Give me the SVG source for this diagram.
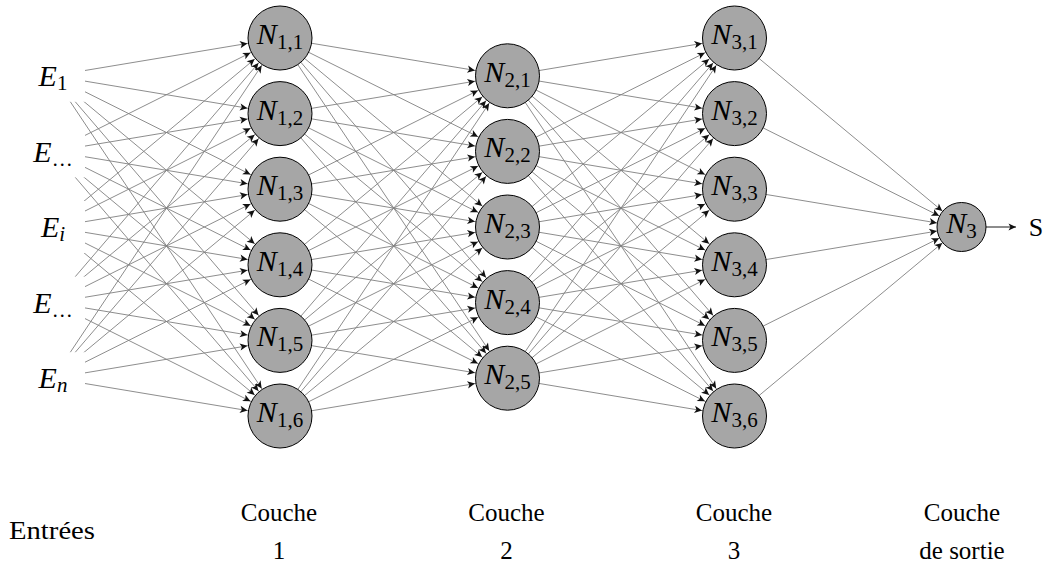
<svg xmlns="http://www.w3.org/2000/svg" width="1046" height="564" viewBox="0 0 1046 564">
<style>
.n circle{fill:#a6a6a6;stroke:#000;stroke-width:1}
.m{font-family:'Liberation Serif','Times New Roman','DejaVu Serif',serif;font-size:30px;text-anchor:middle;fill:#000}
.m .v{font-style:italic}
.m .s{font-size:21px}
.m .si{font-size:21px;font-style:italic}
.t{font-family:'Liberation Serif','Times New Roman','DejaVu Serif',serif;font-size:25px;text-anchor:middle;fill:#000}
.bg{fill:#fff;stroke:none}
</style>
<defs>
<marker id="a" markerUnits="userSpaceOnUse" refX="33" refY="0" orient="auto" overflow="visible" markerWidth="10" markerHeight="10"><path d="M0,0 L-7.5,-3.6 L-5.6,0 L-7.5,3.6 Z" fill="#111"/></marker>
<marker id="b" markerUnits="userSpaceOnUse" refX="25" refY="0" orient="auto" overflow="visible" markerWidth="10" markerHeight="10"><path d="M0,0 L-7.5,-3.6 L-5.6,0 L-7.5,3.6 Z" fill="#111"/></marker>
<marker id="c" markerUnits="userSpaceOnUse" refX="0" refY="0" orient="auto" overflow="visible" markerWidth="10" markerHeight="10"><path d="M0,0 L-7.5,-3.6 L-5.6,0 L-7.5,3.6 Z" fill="#111"/></marker>
</defs>
<g id="connectors" stroke="#808080" stroke-width="0.9" fill="none">
<g marker-end="url(#a)">
<line x1="53" y1="75.8" x2="280" y2="38"/><line x1="53" y1="75.8" x2="280" y2="113.6"/><line x1="53" y1="75.8" x2="280" y2="189.2"/><line x1="53" y1="75.8" x2="280" y2="264.8"/><line x1="53" y1="75.8" x2="280" y2="340.4"/><line x1="53" y1="75.8" x2="280" y2="416"/>
<line x1="53" y1="151.4" x2="280" y2="38"/><line x1="53" y1="151.4" x2="280" y2="113.6"/><line x1="53" y1="151.4" x2="280" y2="189.2"/><line x1="53" y1="151.4" x2="280" y2="264.8"/><line x1="53" y1="151.4" x2="280" y2="340.4"/><line x1="53" y1="151.4" x2="280" y2="416"/>
<line x1="53" y1="227" x2="280" y2="38"/><line x1="53" y1="227" x2="280" y2="113.6"/><line x1="53" y1="227" x2="280" y2="189.2"/><line x1="53" y1="227" x2="280" y2="264.8"/><line x1="53" y1="227" x2="280" y2="340.4"/><line x1="53" y1="227" x2="280" y2="416"/>
<line x1="53" y1="302.6" x2="280" y2="38"/><line x1="53" y1="302.6" x2="280" y2="113.6"/><line x1="53" y1="302.6" x2="280" y2="189.2"/><line x1="53" y1="302.6" x2="280" y2="264.8"/><line x1="53" y1="302.6" x2="280" y2="340.4"/><line x1="53" y1="302.6" x2="280" y2="416"/>
<line x1="53" y1="378.2" x2="280" y2="38"/><line x1="53" y1="378.2" x2="280" y2="113.6"/><line x1="53" y1="378.2" x2="280" y2="189.2"/><line x1="53" y1="378.2" x2="280" y2="264.8"/><line x1="53" y1="378.2" x2="280" y2="340.4"/><line x1="53" y1="378.2" x2="280" y2="416"/>

<line x1="280" y1="38" x2="507.5" y2="75.8"/><line x1="280" y1="38" x2="507.5" y2="151.4"/><line x1="280" y1="38" x2="507.5" y2="227"/><line x1="280" y1="38" x2="507.5" y2="302.6"/><line x1="280" y1="38" x2="507.5" y2="378.2"/>
<line x1="280" y1="113.6" x2="507.5" y2="75.8"/><line x1="280" y1="113.6" x2="507.5" y2="151.4"/><line x1="280" y1="113.6" x2="507.5" y2="227"/><line x1="280" y1="113.6" x2="507.5" y2="302.6"/><line x1="280" y1="113.6" x2="507.5" y2="378.2"/>
<line x1="280" y1="189.2" x2="507.5" y2="75.8"/><line x1="280" y1="189.2" x2="507.5" y2="151.4"/><line x1="280" y1="189.2" x2="507.5" y2="227"/><line x1="280" y1="189.2" x2="507.5" y2="302.6"/><line x1="280" y1="189.2" x2="507.5" y2="378.2"/>
<line x1="280" y1="264.8" x2="507.5" y2="75.8"/><line x1="280" y1="264.8" x2="507.5" y2="151.4"/><line x1="280" y1="264.8" x2="507.5" y2="227"/><line x1="280" y1="264.8" x2="507.5" y2="302.6"/><line x1="280" y1="264.8" x2="507.5" y2="378.2"/>
<line x1="280" y1="340.4" x2="507.5" y2="75.8"/><line x1="280" y1="340.4" x2="507.5" y2="151.4"/><line x1="280" y1="340.4" x2="507.5" y2="227"/><line x1="280" y1="340.4" x2="507.5" y2="302.6"/><line x1="280" y1="340.4" x2="507.5" y2="378.2"/>
<line x1="280" y1="416" x2="507.5" y2="75.8"/><line x1="280" y1="416" x2="507.5" y2="151.4"/><line x1="280" y1="416" x2="507.5" y2="227"/><line x1="280" y1="416" x2="507.5" y2="302.6"/><line x1="280" y1="416" x2="507.5" y2="378.2"/>

<line x1="507.5" y1="75.8" x2="734.5" y2="38"/><line x1="507.5" y1="75.8" x2="734.5" y2="113.6"/><line x1="507.5" y1="75.8" x2="734.5" y2="189.2"/><line x1="507.5" y1="75.8" x2="734.5" y2="264.8"/><line x1="507.5" y1="75.8" x2="734.5" y2="340.4"/><line x1="507.5" y1="75.8" x2="734.5" y2="416"/>
<line x1="507.5" y1="151.4" x2="734.5" y2="38"/><line x1="507.5" y1="151.4" x2="734.5" y2="113.6"/><line x1="507.5" y1="151.4" x2="734.5" y2="189.2"/><line x1="507.5" y1="151.4" x2="734.5" y2="264.8"/><line x1="507.5" y1="151.4" x2="734.5" y2="340.4"/><line x1="507.5" y1="151.4" x2="734.5" y2="416"/>
<line x1="507.5" y1="227" x2="734.5" y2="38"/><line x1="507.5" y1="227" x2="734.5" y2="113.6"/><line x1="507.5" y1="227" x2="734.5" y2="189.2"/><line x1="507.5" y1="227" x2="734.5" y2="264.8"/><line x1="507.5" y1="227" x2="734.5" y2="340.4"/><line x1="507.5" y1="227" x2="734.5" y2="416"/>
<line x1="507.5" y1="302.6" x2="734.5" y2="38"/><line x1="507.5" y1="302.6" x2="734.5" y2="113.6"/><line x1="507.5" y1="302.6" x2="734.5" y2="189.2"/><line x1="507.5" y1="302.6" x2="734.5" y2="264.8"/><line x1="507.5" y1="302.6" x2="734.5" y2="340.4"/><line x1="507.5" y1="302.6" x2="734.5" y2="416"/>
<line x1="507.5" y1="378.2" x2="734.5" y2="38"/><line x1="507.5" y1="378.2" x2="734.5" y2="113.6"/><line x1="507.5" y1="378.2" x2="734.5" y2="189.2"/><line x1="507.5" y1="378.2" x2="734.5" y2="264.8"/><line x1="507.5" y1="378.2" x2="734.5" y2="340.4"/><line x1="507.5" y1="378.2" x2="734.5" y2="416"/>
</g>
<g marker-end="url(#b)">
<line x1="734.5" y1="38" x2="961.5" y2="227"/><line x1="734.5" y1="113.6" x2="961.5" y2="227"/><line x1="734.5" y1="189.2" x2="961.5" y2="227"/><line x1="734.5" y1="264.8" x2="961.5" y2="227"/><line x1="734.5" y1="340.4" x2="961.5" y2="227"/><line x1="734.5" y1="416" x2="961.5" y2="227"/>
</g>
<line x1="986" y1="227" x2="1016" y2="227" stroke="#000" marker-end="url(#c)"/>
</g>

<g id="E1"><rect class="bg" x="21" y="49.8" width="64" height="52"/><text class="m" x="53" y="86"><tspan class="v">E</tspan><tspan class="s" dy="4">1</tspan></text></g>
<g id="E2"><rect class="bg" x="21" y="125.4" width="64" height="52"/><text class="m" x="53" y="161.6"><tspan class="v">E</tspan><tspan class="s" dy="4">…</tspan></text></g>
<g id="Ei"><rect class="bg" x="21" y="201" width="64" height="52"/><text class="m" x="53" y="237.2"><tspan class="v">E</tspan><tspan class="si" dy="4">i</tspan></text></g>
<g id="E4"><rect class="bg" x="21" y="276.6" width="64" height="52"/><text class="m" x="53" y="312.8"><tspan class="v">E</tspan><tspan class="s" dy="4">…</tspan></text></g>
<g id="En"><rect class="bg" x="21" y="352.2" width="64" height="52"/><text class="m" x="53" y="388.4"><tspan class="v">E</tspan><tspan class="si" dy="4">n</tspan></text></g>

<g id="N11" class="n"><circle cx="280" cy="38" r="32"/><text class="m" x="280" y="44"><tspan class="v">N</tspan><tspan class="s" dy="5">1,1</tspan></text></g>
<g id="N12" class="n"><circle cx="280" cy="113.6" r="32"/><text class="m" x="280" y="119.6"><tspan class="v">N</tspan><tspan class="s" dy="5">1,2</tspan></text></g>
<g id="N13" class="n"><circle cx="280" cy="189.2" r="32"/><text class="m" x="280" y="195.2"><tspan class="v">N</tspan><tspan class="s" dy="5">1,3</tspan></text></g>
<g id="N14" class="n"><circle cx="280" cy="264.8" r="32"/><text class="m" x="280" y="270.8"><tspan class="v">N</tspan><tspan class="s" dy="5">1,4</tspan></text></g>
<g id="N15" class="n"><circle cx="280" cy="340.4" r="32"/><text class="m" x="280" y="346.4"><tspan class="v">N</tspan><tspan class="s" dy="5">1,5</tspan></text></g>
<g id="N16" class="n"><circle cx="280" cy="416" r="32"/><text class="m" x="280" y="422"><tspan class="v">N</tspan><tspan class="s" dy="5">1,6</tspan></text></g>

<g id="N21" class="n"><circle cx="507.5" cy="75.8" r="32"/><text class="m" x="507.5" y="81.8"><tspan class="v">N</tspan><tspan class="s" dy="5">2,1</tspan></text></g>
<g id="N22" class="n"><circle cx="507.5" cy="151.4" r="32"/><text class="m" x="507.5" y="157.4"><tspan class="v">N</tspan><tspan class="s" dy="5">2,2</tspan></text></g>
<g id="N23" class="n"><circle cx="507.5" cy="227" r="32"/><text class="m" x="507.5" y="233"><tspan class="v">N</tspan><tspan class="s" dy="5">2,3</tspan></text></g>
<g id="N24" class="n"><circle cx="507.5" cy="302.6" r="32"/><text class="m" x="507.5" y="308.6"><tspan class="v">N</tspan><tspan class="s" dy="5">2,4</tspan></text></g>
<g id="N25" class="n"><circle cx="507.5" cy="378.2" r="32"/><text class="m" x="507.5" y="384.2"><tspan class="v">N</tspan><tspan class="s" dy="5">2,5</tspan></text></g>

<g id="N31" class="n"><circle cx="734.5" cy="38" r="32"/><text class="m" x="734.5" y="44"><tspan class="v">N</tspan><tspan class="s" dy="5">3,1</tspan></text></g>
<g id="N32" class="n"><circle cx="734.5" cy="113.6" r="32"/><text class="m" x="734.5" y="119.6"><tspan class="v">N</tspan><tspan class="s" dy="5">3,2</tspan></text></g>
<g id="N33" class="n"><circle cx="734.5" cy="189.2" r="32"/><text class="m" x="734.5" y="195.2"><tspan class="v">N</tspan><tspan class="s" dy="5">3,3</tspan></text></g>
<g id="N34" class="n"><circle cx="734.5" cy="264.8" r="32"/><text class="m" x="734.5" y="270.8"><tspan class="v">N</tspan><tspan class="s" dy="5">3,4</tspan></text></g>
<g id="N35" class="n"><circle cx="734.5" cy="340.4" r="32"/><text class="m" x="734.5" y="346.4"><tspan class="v">N</tspan><tspan class="s" dy="5">3,5</tspan></text></g>
<g id="N36" class="n"><circle cx="734.5" cy="416" r="32"/><text class="m" x="734.5" y="422"><tspan class="v">N</tspan><tspan class="s" dy="5">3,6</tspan></text></g>

<g id="N3" class="n"><circle cx="961.5" cy="227" r="24.5"/><text class="m" x="961.5" y="233"><tspan class="v">N</tspan><tspan class="s" dy="5">3</tspan></text></g>
<g id="S"><text class="m" x="1036" y="236" style="font-size:26px">S</text></g>

<g id="labels">
<text class="t" x="52" y="539" textLength="86" lengthAdjust="spacingAndGlyphs">Entrées</text>
<text class="t" x="279" y="521">Couche</text><text class="t" x="279" y="559">1</text>
<text class="t" x="506.5" y="521">Couche</text><text class="t" x="506.5" y="559">2</text>
<text class="t" x="734" y="521">Couche</text><text class="t" x="734" y="559">3</text>
<text class="t" x="962" y="521">Couche</text><text class="t" x="962" y="559">de sortie</text>
</g>
</svg>
